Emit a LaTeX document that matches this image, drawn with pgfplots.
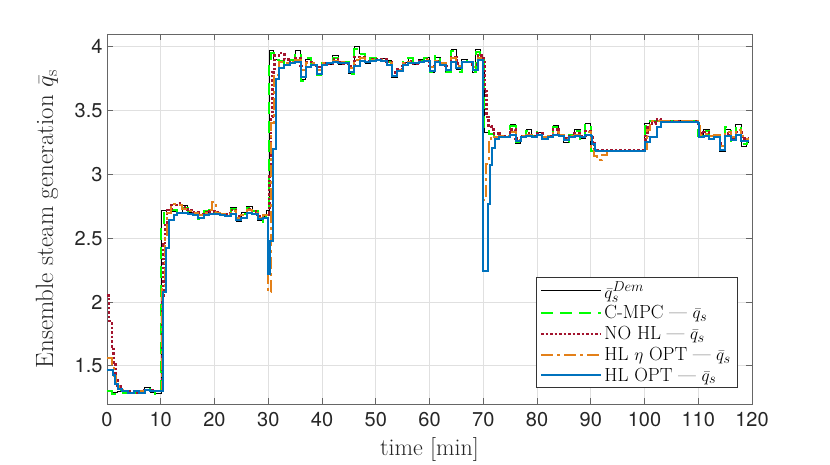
\documentclass[border=0pt]{standalone}
\usepackage{fontspec}
\setsansfont{TeX Gyre Heros}
\usepackage{pgfplots}
\pgfplotsset{compat=1.18}

\definecolor{mblue}{rgb}{0,0.447,0.741}
\definecolor{mred}{rgb}{0.64,0.08,0.18}
\definecolor{morange}{rgb}{0.89,0.50,0.10}
\definecolor{mgreen}{rgb}{0,1,0}
\definecolor{maxis}{rgb}{0.40,0.40,0.40}
\definecolor{mtext}{rgb}{0.15,0.15,0.15}

\begin{document}
\begin{tikzpicture}
  \useasboundingbox (-107pt,-61pt) rectangle (723pt,404pt);
  \begin{axis}[
      scale only axis,
      width=645pt, height=370pt,
      xmin=0, xmax=120, ymin=1.2, ymax=4.1,
      xtick={0,10,...,120},
      ytick={1.5,2,2.5,3,3.5,4},
      grid=major,
      grid style={line width=0.6pt, black!12},
      tick align=inside,
      major tick length=6pt,
      axis line style={maxis, line width=0.8pt},
      tick style={maxis, line width=0.8pt},
      /pgf/number format/assume math mode=true,
      ticklabel style={font=\sffamily\fontsize{20}{23}\selectfont, text=mtext},
      xticklabel style={yshift=-5pt},
      yticklabel style={xshift=-1pt},
      xlabel={time [min]},
      ylabel={Ensemble steam generation $\bar{q}_\mathrm{s}$},
      xlabel style={font=\fontsize{24}{28}\selectfont, text=mtext,
                    at={(axis description cs:0.5,-0.124)}, anchor=center},
      ylabel style={font=\fontsize{25}{29}\selectfont, text=mtext,
                    at={(axis description cs:-0.093,0.5)}, anchor=center},
      legend cell align=left,
      legend image code/.code={\draw[#1] (0pt,0pt) -- (60pt,0pt);},
      legend style={at={(0.977,0.043)}, anchor=south east,
                    font=\fontsize{19}{22}\selectfont,
                    draw=black!80, line width=0.6pt, fill=white,
                    inner xsep=4pt, inner ysep=3pt, row sep=2pt},
    ]

    % demand
    \addplot[const plot, black, line width=0.9pt] coordinates {
      (0,1.30)(1,1.29)(2,1.30)(3,1.28)(4,1.29)(5,1.28)(6,1.30)(7,1.33)(8,1.29)(9,1.28)(10,1.28)
      (10.2,2.72)(11,2.70)(12,2.71)(13,2.69)(14,2.76)(15,2.70)(16,2.68)(17,2.66)(18,2.70)(19,2.72)
      (20,2.69)(21,2.68)(22,2.67)(23,2.74)(24,2.63)(25,2.70)(26,2.75)(27,2.72)(28,2.64)(29,2.67)(29.6,2.72)
      (30.2,3.97)(31,3.90)(32,3.88)(33,3.86)(34,3.89)(35,3.97)(36,3.74)(37,3.90)(38,3.86)(39,3.78)
      (40,3.88)(41,3.86)(42,3.93)(43,3.86)(44,3.88)(45,3.79)(46,4.00)(47,3.95)(48,3.87)(49,3.92)
      (50,3.90)(51,3.91)(52,3.89)(53,3.76)(54,3.82)(55,3.88)(56,3.92)(57,3.86)(58,3.90)(59,3.92)
      (60,3.80)(61,3.92)(62,3.86)(63,3.80)(64,3.98)(65,3.82)(66,3.90)(67,3.88)(68,3.80)(68.6,3.98)(69.4,3.90)
      (70.2,3.33)(71,3.31)(72,3.28)(73,3.30)(74,3.29)(75,3.39)(76,3.24)(77,3.30)(78,3.35)(79,3.29)
      (80,3.33)(81,3.28)(82,3.30)(83,3.38)(84,3.30)(85,3.25)(86,3.31)(87,3.35)(88,3.28)(89,3.40)
      (90,3.18)(95,3.18)(100,3.40)(101,3.42)(105,3.42)
      (110,3.30)(111,3.35)(112,3.28)(113,3.31)(114,3.18)(115,3.35)(116,3.27)(117,3.39)(118,3.22)(119,3.25)(119.5,3.25)
    };
    \addlegendentry{$\bar{q}_s^{Dem}$}

    % C-MPC
    \addplot[const plot, mgreen, line width=2pt, dash pattern=on 12pt off 7pt] coordinates {
      (0,1.30)(1,1.28)(2,1.31)(3,1.29)(4,1.28)(5,1.29)(6,1.29)(7,1.32)(8,1.30)(9,1.28)(10,1.28)
      (10.1,2.60)(10.6,2.70)(11,2.71)(12,2.72)(13,2.70)(14,2.74)(15,2.71)(16,2.68)(17,2.65)(18,2.71)(19,2.72)
      (20,2.70)(21,2.68)(22,2.68)(23,2.73)(24,2.64)(25,2.69)(26,2.74)(27,2.71)(28,2.63)(29,2.66)(29.6,2.70)
      (30.1,3.85)(30.6,3.95)(31,3.90)(32,3.89)(33,3.87)(34,3.90)(35,3.95)(36,3.73)(37,3.91)(38,3.87)(39,3.78)
      (40,3.87)(41,3.87)(42,3.91)(43,3.87)(44,3.88)(45,3.79)(46,3.98)(47,3.94)(48,3.88)(49,3.91)
      (50,3.90)(51,3.90)(52,3.88)(53,3.77)(54,3.82)(55,3.88)(56,3.91)(57,3.87)(58,3.89)(59,3.91)
      (60,3.80)(61,3.93)(62,3.87)(63,3.80)(64,3.97)(65,3.80)(66,3.89)(67,3.88)(68,3.80)(68.6,3.96)(69.4,3.90)
      (70.2,3.34)(71,3.32)(72,3.29)(73,3.30)(74,3.29)(75,3.38)(76,3.25)(77,3.30)(78,3.34)(79,3.30)
      (80,3.33)(81,3.28)(82,3.31)(83,3.37)(84,3.31)(85,3.25)(86,3.31)(87,3.34)(88,3.28)(89,3.39)
      (90,3.18)(95,3.18)(100,3.38)(101,3.42)(105,3.42)
      (110,3.30)(111,3.34)(112,3.28)(113,3.30)(114,3.19)(115,3.37)(116,3.26)(117,3.38)(118,3.24)(119,3.26)(119.5,3.26)
    };
    \addlegendentry{C-MPC --- $\bar{q}_s$}

    % NO HL
    \addplot[const plot, mred, line width=2.5pt, dash pattern=on 2.5pt off 2pt] coordinates {
      (0,2.05)(0.4,1.85)(0.9,1.65)(1.2,1.52)(1.6,1.40)(2,1.34)(2.5,1.31)(3,1.30)(4,1.30)(5,1.29)
      (6,1.30)(7,1.31)(8,1.31)(9,1.30)(10,1.30)
      (10.2,2.05)(10.5,2.45)(10.8,2.62)(11.2,2.72)(12,2.76)(13,2.77)(14,2.74)(15,2.72)(16,2.70)(17,2.68)
      (18,2.70)(19,2.71)(20,2.70)(21,2.68)(22,2.69)(23,2.72)(24,2.67)(25,2.68)(26,2.73)(27,2.71)
      (28,2.67)(29,2.68)(30,2.70)
      (30.2,3.00)(30.5,3.45)(30.8,3.80)(31.2,3.93)(32,3.95)(33,3.90)(34,3.88)(35,3.91)(36,3.85)(37,3.88)
      (38,3.87)(39,3.84)(40,3.87)(41,3.87)(42,3.90)(43,3.88)(44,3.87)(45,3.85)(46,3.92)(47,3.92)
      (48,3.89)(49,3.90)(50,3.90)(51,3.90)(52,3.88)(53,3.80)(54,3.82)(55,3.87)(56,3.89)(57,3.87)
      (58,3.89)(59,3.90)(60,3.85)(61,3.89)(62,3.87)(63,3.85)(64,3.92)(65,3.87)(66,3.88)(67,3.88)
      (68,3.86)(69,3.93)(70,3.90)
      (70.2,3.65)(70.6,3.45)(71,3.38)(71.5,3.35)(72,3.32)(73,3.30)(74,3.30)(75,3.35)(76,3.28)(77,3.30)
      (78,3.32)(79,3.30)(80,3.32)(81,3.29)(82,3.30)(83,3.35)(84,3.31)(85,3.28)(86,3.30)(87,3.32)
      (88,3.30)(89,3.34)(90,3.30)(90.3,3.24)(90.7,3.20)(91,3.19)(95,3.19)
      (100,3.20)(100.2,3.30)(100.6,3.37)(101,3.40)(102,3.43)(103,3.42)(106,3.42)
      (110,3.40)(110.3,3.32)(111,3.33)(112,3.30)(113,3.30)(114,3.24)(115,3.32)(116,3.29)(117,3.33)
      (118,3.28)(119,3.28)(119.5,3.28)
    };
    \addlegendentry{NO HL --- $\bar{q}_s$}

    % HL eta OPT
    \addplot[const plot, morange, line width=2pt, dash pattern=on 12pt off 4pt on 3pt off 4pt] coordinates {
      (0,1.56)(0.9,1.50)(1.3,1.42)(1.7,1.35)(2.2,1.31)(3,1.30)(4,1.29)(5,1.30)(6,1.30)(7,1.31)
      (8,1.30)(9,1.30)(10,1.30)
      (10.3,2.10)(10.7,2.50)(11.1,2.70)(12,2.77)(13,2.76)(14,2.73)(15,2.71)(16,2.70)(17,2.68)(18,2.70)
      (19,2.72)(19.5,2.78)(20.3,2.70)(21,2.69)(22,2.69)(23,2.71)(24,2.66)(25,2.68)(26,2.72)(27,2.70)
      (28,2.66)(29,2.68)
      (30,2.08)(30.6,3.40)(31,3.78)(32,3.88)(33,3.87)(34,3.88)(35,3.90)(36,3.82)(37,3.87)(38,3.87)
      (39,3.82)(40,3.87)(41,3.87)(42,3.89)(43,3.88)(44,3.87)(45,3.83)(46,3.90)(47,3.91)(48,3.88)
      (49,3.90)(50,3.90)(51,3.90)(52,3.87)(53,3.79)(54,3.82)(55,3.87)(56,3.88)(57,3.87)(58,3.88)
      (59,3.90)(60,3.84)(61,3.89)(62,3.87)(63,3.84)(64,3.91)(65,3.85)(66,3.88)(67,3.88)(68,3.84)
      (69,3.91)
      (70,2.80)(70.6,3.08)(71,3.25)(71.5,3.30)(72,3.29)(73,3.30)(74,3.30)(75,3.33)(76,3.27)(77,3.30)
      (78,3.31)(79,3.30)(80,3.31)(81,3.29)(82,3.30)(83,3.33)(84,3.31)(85,3.28)(86,3.30)(87,3.31)
      (88,3.30)(89,3.33)(90,3.20)(90.6,3.14)(91.2,3.11)(92,3.15)(93,3.18)(96,3.18)
      (100,3.20)(100.4,3.35)(101,3.42)(106,3.42)
      (110,3.40)(110.3,3.31)(111,3.32)(112,3.30)(113,3.31)(114,3.22)(115,3.33)(116,3.29)(117,3.35)
      (118,3.30)(119,3.28)(119.5,3.28)
    };
    \addlegendentry{HL $\eta$ OPT --- $\bar{q}_s$}

    % HL OPT
    \addplot[const plot, mblue, line width=2pt] coordinates {
      (0,1.47)(1.2,1.43)(1.5,1.36)(2.1,1.32)(2.7,1.30)(4,1.29)(5,1.30)(6,1.29)(7,1.31)(8,1.30)
      (9,1.30)(10,1.30)
      (10.4,2.08)(11,2.42)(11.5,2.64)(12.5,2.68)(13,2.70)(14,2.70)(15,2.69)(16,2.68)(17,2.66)(18,2.68)
      (19,2.69)(20,2.69)(21,2.68)(22,2.67)(23,2.69)(24,2.64)(25,2.66)(26,2.70)(27,2.69)(28,2.65)
      (29,2.66)
      (30,2.22)(30.4,2.48)(30.8,3.20)(31.4,3.75)(32,3.83)(33,3.86)(34,3.87)(35,3.88)(36,3.76)(37,3.84)
      (38,3.86)(39,3.79)(40,3.86)(41,3.87)(42,3.88)(43,3.87)(44,3.87)(45,3.80)(46,3.85)(47,3.89)
      (48,3.88)(49,3.89)(50,3.90)(51,3.89)(52,3.86)(53,3.77)(54,3.81)(55,3.86)(56,3.87)(57,3.87)
      (58,3.88)(59,3.89)(60,3.81)(61,3.88)(62,3.86)(63,3.82)(64,3.88)(65,3.83)(66,3.88)(67,3.88)
      (68,3.82)(69,3.90)
      (70,2.24)(70.8,2.77)(71.3,3.07)(71.6,3.21)(72.1,3.28)(73,3.29)(74,3.29)(75,3.31)(76,3.26)(77,3.29)
      (78,3.30)(79,3.29)(80,3.31)(81,3.28)(82,3.29)(83,3.31)(84,3.30)(85,3.27)(86,3.29)(87,3.30)
      (88,3.29)(89,3.31)(90,3.30)(90.3,3.24)(90.7,3.19)(91,3.18)(96,3.18)
      (100,3.25)(101,3.29)(102.4,3.37)(103,3.41)(106,3.41)
      (110,3.40)(110.2,3.29)(111,3.30)(112,3.28)(113,3.29)(114,3.19)(115,3.30)(116,3.27)(117,3.31)
      (118,3.26)(119,3.26)(119.5,3.26)
    };
    \addlegendentry{HL OPT --- $\bar{q}_s$}

  \end{axis}
\end{tikzpicture}
\end{document}
